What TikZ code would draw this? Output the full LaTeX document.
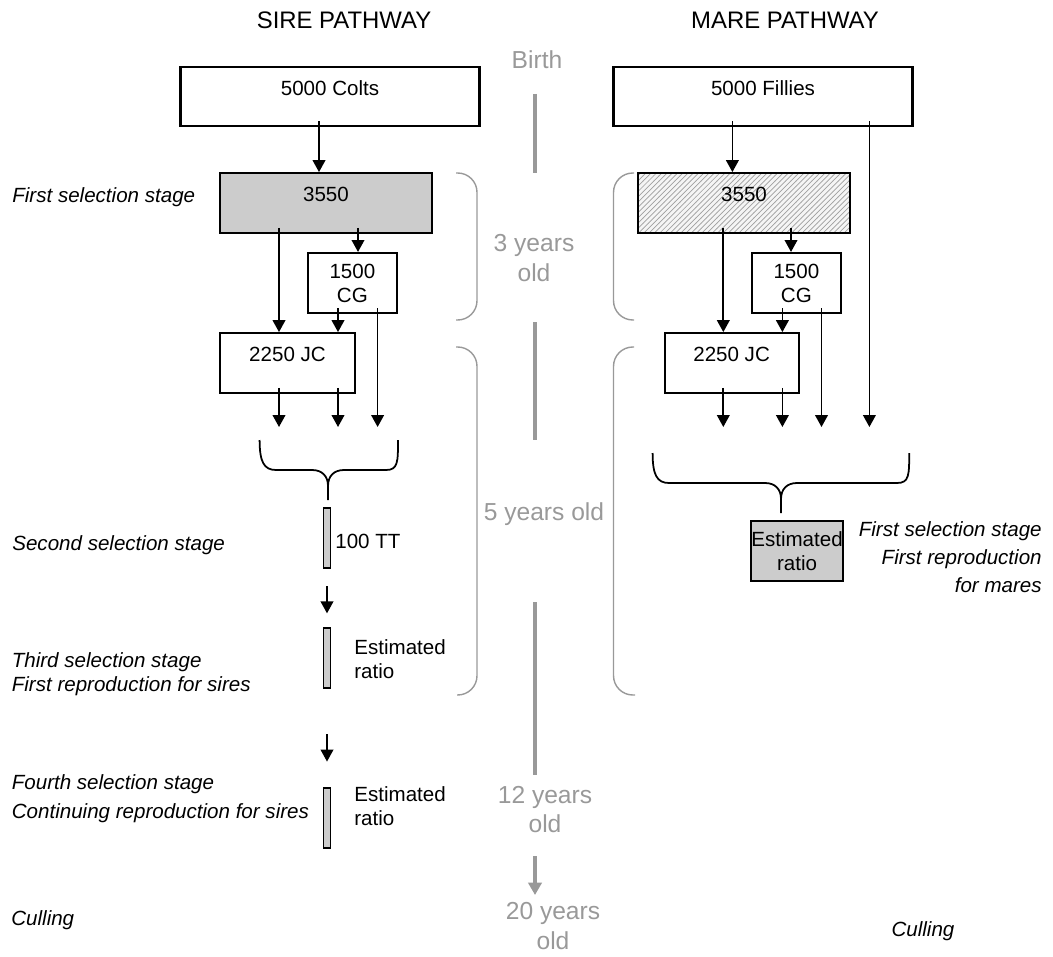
\documentclass[tikz,border=0pt]{standalone}
\usepackage{fontspec}
\setmainfont{Liberation Sans}
\usetikzlibrary{arrows.meta,patterns}
\definecolor{agegray}{gray}{0.6}

\begin{document}
\begin{tikzpicture}[x=0.02cm, y=-0.02cm,
  every node/.style={inner sep=0pt, font=\fontsize{11.7}{13.6}\selectfont},
  box/.style={draw, line width=1.2pt, text height=16.4pt, text depth=17.6pt},
  tbox/.style={draw, line width=1.2pt, minimum height=1.2cm, align=center},
  bar/.style={draw, line width=0.7pt, fill=gray!40, minimum width=0.13cm, minimum height=1.2cm},
  arr/.style={line width=1pt, -{Triangle[length=6.8pt,width=7.2pt]}, shorten <=-3.4pt},
  stage/.style={font=\fontsize{11.7}{13.6}\selectfont\itshape},
  title/.style={font=\fontsize{13.6}{16}\selectfont, anchor=base},
  age/.style={text=agegray, align=center, font=\fontsize{14}{17}\selectfont},
  agebar/.style={agegray, line width=2.3pt},
  agebr/.style={agegray, line width=0.8pt, rounded corners=11pt},
  brc/.style={line width=1pt}]
 \useasboundingbox (0,0) rectangle (1053,956);

 % headings and ages
 \node[title] (sire) at (344,29) {SIRE PATHWAY};
 \node[title] (mare) at (785,29) {MARE PATHWAY};
 \node[age, anchor=base] (birth) at (537,69) {Birth};
 \node[age] (y3) at (534,258) {3 years\\old};
 \node[age, anchor=base] (y5) at (544,520) {5 years old};
 \node[age] (y12) at (545,809.5) {12 years\\old};
 \node[age] (y20) at (553,926) {20 years\\old};

 % time line
 \draw[agebar] (535,94) -- (535,173);
 \draw[agebar] (535,322) -- (535,440);
 \draw[agebar] (535,602) -- (535,775);
 \draw[agebar, -{Triangle[length=7pt,width=7.5pt]}] (535,856) -- (535,895);
 \draw[agebr] (456,173) -- (477,173) -- (477,320) -- (456,320);
 \draw[agebr] (456,347) -- (477,347) -- (477,695) -- (457,695);
 \draw[agebr] (634,173) -- (613.5,173) -- (613.5,320) -- (634,320);
 \draw[agebr] (634,347) -- (613.5,347) -- (613.5,695) -- (635,695);

 % sire pathway
 \node[box, minimum width=5.98cm] (colts) at (330,96.5) {5000 Colts};
 \node[box, fill=gray!40, minimum width=4.24cm] (s3550) at (326,203) {3550};
 \node[tbox, minimum width=1.79cm] (sCG) at (352.4,283) {1500\\CG};
 \node[box, minimum width=2.7cm] (sJC) at (287.5,363) {2250 JC};
 \node[bar] (bar1) at (327,538) {};
 \node[bar] (bar2) at (327,658) {};
 \node[bar] (bar3) at (327,818) {};
 \node[anchor=base west] (tt) at (335,548) {100 TT};
 \node[anchor=west, align=left] (ratio2) at (354,659) {Estimated\\ratio};
 \node[anchor=west, align=left] (ratio3) at (354,806.5) {Estimated\\ratio};

 \node[stage, anchor=base west] (st1) at (12,202) {First selection stage};
 \node[stage, anchor=base west] (st2) at (12,550) {Second selection stage};
 \node[stage, anchor=west, align=left] (st3) at (11.5,674.5) {Third selection stage\\First reproduction for sires};
 \node[stage, anchor=west, align=left, font=\fontsize{11.7}{16.4}\selectfont\itshape] (st4) at (11.5,799) {Fourth selection stage\\Continuing reproduction for sires};
 \node[stage, anchor=base west] (scull) at (11,925) {Culling};

 % mare pathway
 \node[box, minimum width=5.98cm] (fillies) at (763,96.5) {5000 Fillies};
 \node[box, minimum width=4.23cm, preaction={fill=gray!8}, pattern=north east lines, pattern color=gray!75] (m3550) at (744,203) {3550};
 \node[tbox, minimum width=1.79cm] (mCG) at (796.4,283) {1500\\CG};
 \node[box, minimum width=2.68cm] (mJC) at (731.6,363) {2250 JC};
 \node[tbox, fill=gray!40, minimum width=1.84cm] (mratio) at (797,551) {Estimated\\ratio};
 \node[stage, anchor=east, align=right, font=\fontsize{11.7}{15.9}\selectfont\itshape] (mst) at (1042,557.5) {First selection stage\\First reproduction\\for mares};
 \node[stage, anchor=base] (mcull) at (923,936) {Culling};

 % arrow columns
 \coordinate (tips) at (0,427);
 \coordinate (c0) at (319,0);
 \coordinate (c1) at (279,0);
 \coordinate (c2) at (338,0);
 \coordinate (c3) at (358,0);
 \coordinate (c4) at (377.6,0);
 \coordinate (m0) at (732.4,0);
 \coordinate (m1) at (723.3,0);
 \coordinate (m2) at (782.4,0);
 \coordinate (m3) at (791,0);
 \coordinate (m4) at (821.5,0);
 \coordinate (m5) at (869.4,0);

 \draw[arr] (c0 |- colts.south) -- (c0 |- s3550.north);
 \draw[arr] (c1 |- s3550.south) -- (c1 |- sJC.north);
 \draw[arr] (c3 |- s3550.south) -- (c3 |- sCG.north);
 \draw[arr] (c2 |- sCG.south) -- (c2 |- sJC.north);
 \draw[arr] (c4 |- sCG.south) -- (c4 |- tips);
 \draw[arr] (c1 |- sJC.south) -- (c1 |- tips);
 \draw[arr] (c2 |- sJC.south) -- (c2 |- tips);
 \draw[arr, shorten <=10pt, shorten >=8pt] (bar1) -- (bar2);
 \draw[arr, shorten <=26pt, shorten >=14.7pt] (bar2) -- (bar3);

 \draw[arr] (m0 |- fillies.south) -- (m0 |- m3550.north);
 \draw[arr] (m1 |- m3550.south) -- (m1 |- mJC.north);
 \draw[arr] (m3 |- m3550.south) -- (m3 |- mCG.north);
 \draw[arr] (m2 |- mCG.south) -- (m2 |- mJC.north);
 \draw[arr] (m4 |- mCG.south) -- (m4 |- tips);
 \draw[arr] (m5 |- fillies.south) -- (m5 |- tips);
 \draw[arr] (m1 |- mJC.south) -- (m1 |- tips);
 \draw[arr] (m2 |- mJC.south) -- (m2 |- tips);

 % braces
 \draw[brc] (259.6,440) .. controls (259.6,462) and (264,470) .. (276,470) -- (312,470)
   .. controls (322,470) and (328,476) .. (328,486) -- (328,500) -- (328,486)
   .. controls (328,476) and (334,470) .. (344,470) -- (386,470)
   .. controls (398,470) and (398,462) .. (398,440);
 \draw[brc] (652.6,453) .. controls (652.6,475) and (657,483) .. (669,483) -- (765,483)
   .. controls (775,483) and (781,489) .. (781,499) -- (781,513) -- (781,499)
   .. controls (781,489) and (787,483) .. (797,483) -- (897,483)
   .. controls (909.2,483) and (909.2,475) .. (909.2,453);
\end{tikzpicture}
\end{document}
